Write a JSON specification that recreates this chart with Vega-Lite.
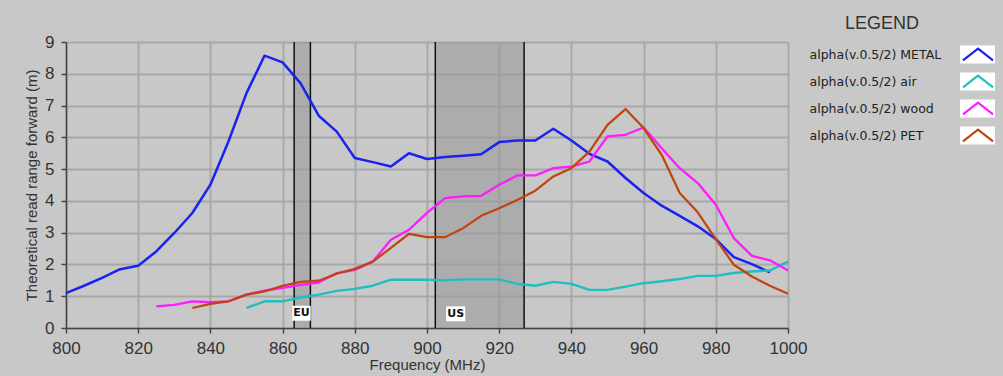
{
  "$schema": "https://vega.github.io/schema/vega-lite/v6.json",
  "width": 722,
  "height": 286,
  "autosize": "none",
  "padding": {"left": 66, "top": 42, "right": 215, "bottom": 48},
  "background": "#c8c8c8",
  "title": {
    "text": "LEGEND",
    "anchor": "end",
    "frame": "group",
    "align": "center",
    "dx": 94,
    "dy": 16,
    "offset": 2,
    "baseline": "alphabetic",
    "font": "Liberation Sans",
    "fontSize": 18,
    "fontWeight": "normal",
    "color": "#333333"
  },
  "config": {
    "view": {"fill": "white", "stroke": null},
    "axis": {
      "grid": true,
      "gridColor": "#a8a8a8",
      "gridWidth": 2,
      "domainColor": "#444444",
      "domainWidth": 1.5,
      "tickColor": "#444444",
      "tickSize": 5,
      "tickWidth": 1.5,
      "labelFont": "Liberation Sans",
      "labelFontSize": 17,
      "labelColor": "#333333",
      "labelOverlap": false,
      "labelFlush": false,
      "titleFont": "Liberation Sans",
      "titleFontSize": 15,
      "titleFontWeight": "normal",
      "titleColor": "#333333"
    }
  },
  "layer": [
    {
      "data": {"values": [
        {"band": "EU", "f1": 863.2, "f2": 867.7},
        {"band": "US", "f1": 902.3, "f2": 926.9}
      ]},
      "mark": {"type": "rect", "fill": "#999999", "opacity": 0.6},
      "encoding": {
        "x": {"field": "f1", "type": "quantitative", "scale": {"domain": [800, 1000], "nice": false, "zero": false},
              "axis": {"values": [800, 820, 840, 860, 880, 900, 920, 940, 960, 980, 1000], "format": "d", "title": "Frequency (MHz)", "labelPadding": 7, "titlePadding": 1}},
        "x2": {"field": "f2"}
      }
    },
    {
      "data": {"values": [
        {"edge": 863.2}, {"edge": 867.7}, {"edge": 902.3}, {"edge": 926.9}
      ]},
      "mark": {"type": "rule", "color": "#111111", "strokeWidth": 1.5},
      "encoding": {
        "x": {"field": "edge", "type": "quantitative",
              "axis": {"values": [800, 820, 840, 860, 880, 900, 920, 940, 960, 980, 1000], "format": "d", "title": "Frequency (MHz)", "labelPadding": 7, "titlePadding": 1}}
      }
    },
    {
      "data": {"values": [
        {"band": "EU", "x1": 862.7, "x2": 867.8, "y1": 0.23, "y2": 0.70, "xc": 865.25, "yc": 0.465},
        {"band": "US", "x1": 905.3, "x2": 910.6, "y1": 0.21, "y2": 0.68, "xc": 907.95, "yc": 0.445}
      ]},
      "layer": [
        {
          "mark": {"type": "rect", "fill": "white", "opacity": 1},
          "encoding": {
            "x": {"field": "x1", "type": "quantitative",
                  "axis": {"values": [800, 820, 840, 860, 880, 900, 920, 940, 960, 980, 1000], "format": "d", "title": "Frequency (MHz)", "labelPadding": 7, "titlePadding": 1}},
            "x2": {"field": "x2"},
            "y": {"field": "y1", "type": "quantitative",
                  "axis": {"values": [0, 1, 2, 3, 4, 5, 6, 7, 8, 9], "format": "d", "title": "Theoretical read range forward (m)", "labelPadding": 7, "titlePadding": 5}},
            "y2": {"field": "y2"}
          }
        },
        {
          "mark": {"type": "text", "font": "DejaVu Sans", "fontSize": 11, "fontWeight": "bold", "color": "#111111", "baseline": "middle", "align": "center"},
          "encoding": {
            "x": {"field": "xc", "type": "quantitative",
                  "axis": {"values": [800, 820, 840, 860, 880, 900, 920, 940, 960, 980, 1000], "format": "d", "title": "Frequency (MHz)", "labelPadding": 7, "titlePadding": 1}},
            "y": {"field": "yc", "type": "quantitative",
                  "axis": {"values": [0, 1, 2, 3, 4, 5, 6, 7, 8, 9], "format": "d", "title": "Theoretical read range forward (m)", "labelPadding": 7, "titlePadding": 5}},
            "text": {"field": "band"}
          }
        }
      ]
    },
    {
      "data": {"values": [
        {"entry": "alpha(v.0.5/2) METAL"},
        {"entry": "alpha(v.0.5/2) air"},
        {"entry": "alpha(v.0.5/2) wood"},
        {"entry": "alpha(v.0.5/2) PET"}
      ]},
      "mark": {"type": "point", "filled": true, "fill": "white", "stroke": "#6e6e6e", "strokeWidth": 1, "opacity": 0},
      "encoding": {
        "shape": {
          "field": "entry",
          "type": "nominal",
          "sort": ["alpha(v.0.5/2) METAL", "alpha(v.0.5/2) air", "alpha(v.0.5/2) wood", "alpha(v.0.5/2) PET"],
          "scale": {"range": ["M-1,-0.514H1V0.514H-1Z"]},
          "legend": {
            "orient": "none",
            "legendX": 893.5,
            "legendY": -1,
            "title": null,
            "labelExpr": "''",
            "labelOffset": 0,
            "symbolSize": 1225,
            "symbolFillColor": "white",
            "symbolStrokeColor": "#6e6e6e",
            "symbolStrokeWidth": 1,
            "symbolOpacity": 1,
            "rowPadding": 0,
            "clipHeight": 27,
            "padding": 0,
            "zindex": 1
          }
        },
        "strokeDash": {
          "field": "entry",
          "type": "nominal",
          "scale": {
            "domain": ["alpha(v.0.5/2) METAL", "alpha(v.0.5/2) air", "alpha(v.0.5/2) wood", "alpha(v.0.5/2) PET"],
            "range": [[1, 0], [1, 0], [1, 0], [1, 0]]
          },
          "legend": {
            "orient": "none",
            "legendX": 743,
            "legendY": -1,
            "title": null,
            "padding": 0,
            "symbolSize": 100,
            "symbolStrokeWidth": 0,
            "symbolOpacity": 0,
            "labelOffset": -12.5,
            "labelFont": "DejaVu Sans",
            "labelFontSize": 12.5,
            "labelColor": "#222222",
            "labelLimit": 0,
            "rowPadding": 0,
            "clipHeight": 27,
            "zindex": 3
          }
        }
      }
    },
    {
      "data": {"name": "curves"},
      "mark": {"type": "line", "strokeJoin": "round"},
      "encoding": {
        "x": {
          "field": "f", "type": "quantitative",
          "scale": {"domain": [800, 1000], "nice": false, "zero": false},
          "axis": {"values": [800, 820, 840, 860, 880, 900, 920, 940, 960, 980, 1000], "format": "d", "title": "Frequency (MHz)", "labelPadding": 7, "titlePadding": 1}
        },
        "y": {
          "field": "v", "type": "quantitative",
          "scale": {"domain": [0, 9], "nice": false},
          "axis": {"values": [0, 1, 2, 3, 4, 5, 6, 7, 8, 9], "format": "d", "title": "Theoretical read range forward (m)", "labelPadding": 7, "titlePadding": 5}
        },
        "color": {
          "field": "series", "type": "nominal",
          "sort": ["alpha(v.0.5/2) METAL", "alpha(v.0.5/2) air", "alpha(v.0.5/2) wood", "alpha(v.0.5/2) PET"],
          "scale": {
            "range": ["#1a22f0", "#1fbfbf", "#ff1aff", "#c0440c"]
          },
          "legend": {
            "orient": "none",
            "legendX": 894.5,
            "legendY": -1,
            "title": null,
            "padding": 0,
            "symbolType": "M-0.94,0.36L0,-0.36L0.94,0.36",
            "symbolSize": 1024,
            "symbolStrokeWidth": 2.2,
            "symbolFillColor": "transparent",
            "labelExpr": "''",
            "labelOffset": 0,
            "rowPadding": 0,
            "clipHeight": 27,
            "zindex": 2
          }
        },
        "strokeWidth": {
          "field": "series", "type": "nominal",
          "scale": {
            "domain": ["alpha(v.0.5/2) METAL", "alpha(v.0.5/2) air", "alpha(v.0.5/2) wood", "alpha(v.0.5/2) PET"],
            "range": [2.5, 2.2, 2.2, 3.5]
          },
          "legend": null
        }
      }
    }
  ],
  "datasets": {
    "curves": [
      {"series": "alpha(v.0.5/2) METAL", "f": 800, "v": 1.10},
      {"series": "alpha(v.0.5/2) METAL", "f": 805, "v": 1.33},
      {"series": "alpha(v.0.5/2) METAL", "f": 810, "v": 1.58},
      {"series": "alpha(v.0.5/2) METAL", "f": 815, "v": 1.85},
      {"series": "alpha(v.0.5/2) METAL", "f": 820, "v": 1.96},
      {"series": "alpha(v.0.5/2) METAL", "f": 825, "v": 2.41},
      {"series": "alpha(v.0.5/2) METAL", "f": 830, "v": 2.99},
      {"series": "alpha(v.0.5/2) METAL", "f": 835, "v": 3.62},
      {"series": "alpha(v.0.5/2) METAL", "f": 840, "v": 4.51},
      {"series": "alpha(v.0.5/2) METAL", "f": 845, "v": 5.87},
      {"series": "alpha(v.0.5/2) METAL", "f": 850, "v": 7.39},
      {"series": "alpha(v.0.5/2) METAL", "f": 855, "v": 8.57},
      {"series": "alpha(v.0.5/2) METAL", "f": 860, "v": 8.36},
      {"series": "alpha(v.0.5/2) METAL", "f": 865, "v": 7.70},
      {"series": "alpha(v.0.5/2) METAL", "f": 870, "v": 6.68},
      {"series": "alpha(v.0.5/2) METAL", "f": 875, "v": 6.18},
      {"series": "alpha(v.0.5/2) METAL", "f": 880, "v": 5.35},
      {"series": "alpha(v.0.5/2) METAL", "f": 885, "v": 5.22},
      {"series": "alpha(v.0.5/2) METAL", "f": 890, "v": 5.08},
      {"series": "alpha(v.0.5/2) METAL", "f": 895, "v": 5.50},
      {"series": "alpha(v.0.5/2) METAL", "f": 900, "v": 5.32},
      {"series": "alpha(v.0.5/2) METAL", "f": 905, "v": 5.38},
      {"series": "alpha(v.0.5/2) METAL", "f": 910, "v": 5.42},
      {"series": "alpha(v.0.5/2) METAL", "f": 915, "v": 5.47},
      {"series": "alpha(v.0.5/2) METAL", "f": 920, "v": 5.85},
      {"series": "alpha(v.0.5/2) METAL", "f": 925, "v": 5.90},
      {"series": "alpha(v.0.5/2) METAL", "f": 930, "v": 5.90},
      {"series": "alpha(v.0.5/2) METAL", "f": 935, "v": 6.27},
      {"series": "alpha(v.0.5/2) METAL", "f": 940, "v": 5.90},
      {"series": "alpha(v.0.5/2) METAL", "f": 945, "v": 5.48},
      {"series": "alpha(v.0.5/2) METAL", "f": 950, "v": 5.24},
      {"series": "alpha(v.0.5/2) METAL", "f": 955, "v": 4.72},
      {"series": "alpha(v.0.5/2) METAL", "f": 960, "v": 4.25},
      {"series": "alpha(v.0.5/2) METAL", "f": 965, "v": 3.85},
      {"series": "alpha(v.0.5/2) METAL", "f": 970, "v": 3.53},
      {"series": "alpha(v.0.5/2) METAL", "f": 975, "v": 3.20},
      {"series": "alpha(v.0.5/2) METAL", "f": 980, "v": 2.80},
      {"series": "alpha(v.0.5/2) METAL", "f": 985, "v": 2.23},
      {"series": "alpha(v.0.5/2) METAL", "f": 990, "v": 2.01},
      {"series": "alpha(v.0.5/2) METAL", "f": 995, "v": 1.75},

      {"series": "alpha(v.0.5/2) air", "f": 850, "v": 0.63},
      {"series": "alpha(v.0.5/2) air", "f": 855, "v": 0.84},
      {"series": "alpha(v.0.5/2) air", "f": 860, "v": 0.84},
      {"series": "alpha(v.0.5/2) air", "f": 865, "v": 0.96},
      {"series": "alpha(v.0.5/2) air", "f": 870, "v": 1.05},
      {"series": "alpha(v.0.5/2) air", "f": 875, "v": 1.17},
      {"series": "alpha(v.0.5/2) air", "f": 880, "v": 1.23},
      {"series": "alpha(v.0.5/2) air", "f": 885, "v": 1.33},
      {"series": "alpha(v.0.5/2) air", "f": 890, "v": 1.52},
      {"series": "alpha(v.0.5/2) air", "f": 895, "v": 1.52},
      {"series": "alpha(v.0.5/2) air", "f": 900, "v": 1.52},
      {"series": "alpha(v.0.5/2) air", "f": 905, "v": 1.50},
      {"series": "alpha(v.0.5/2) air", "f": 910, "v": 1.53},
      {"series": "alpha(v.0.5/2) air", "f": 915, "v": 1.53},
      {"series": "alpha(v.0.5/2) air", "f": 920, "v": 1.53},
      {"series": "alpha(v.0.5/2) air", "f": 925, "v": 1.39},
      {"series": "alpha(v.0.5/2) air", "f": 930, "v": 1.33},
      {"series": "alpha(v.0.5/2) air", "f": 935, "v": 1.45},
      {"series": "alpha(v.0.5/2) air", "f": 940, "v": 1.39},
      {"series": "alpha(v.0.5/2) air", "f": 945, "v": 1.20},
      {"series": "alpha(v.0.5/2) air", "f": 950, "v": 1.20},
      {"series": "alpha(v.0.5/2) air", "f": 955, "v": 1.30},
      {"series": "alpha(v.0.5/2) air", "f": 960, "v": 1.41},
      {"series": "alpha(v.0.5/2) air", "f": 965, "v": 1.47},
      {"series": "alpha(v.0.5/2) air", "f": 970, "v": 1.54},
      {"series": "alpha(v.0.5/2) air", "f": 975, "v": 1.64},
      {"series": "alpha(v.0.5/2) air", "f": 980, "v": 1.64},
      {"series": "alpha(v.0.5/2) air", "f": 985, "v": 1.73},
      {"series": "alpha(v.0.5/2) air", "f": 990, "v": 1.78},
      {"series": "alpha(v.0.5/2) air", "f": 995, "v": 1.81},
      {"series": "alpha(v.0.5/2) air", "f": 1000, "v": 2.09},

      {"series": "alpha(v.0.5/2) wood", "f": 825, "v": 0.68},
      {"series": "alpha(v.0.5/2) wood", "f": 830, "v": 0.73},
      {"series": "alpha(v.0.5/2) wood", "f": 835, "v": 0.84},
      {"series": "alpha(v.0.5/2) wood", "f": 840, "v": 0.81},
      {"series": "alpha(v.0.5/2) wood", "f": 845, "v": 0.84},
      {"series": "alpha(v.0.5/2) wood", "f": 850, "v": 1.05},
      {"series": "alpha(v.0.5/2) wood", "f": 855, "v": 1.18},
      {"series": "alpha(v.0.5/2) wood", "f": 860, "v": 1.26},
      {"series": "alpha(v.0.5/2) wood", "f": 865, "v": 1.36},
      {"series": "alpha(v.0.5/2) wood", "f": 870, "v": 1.43},
      {"series": "alpha(v.0.5/2) wood", "f": 875, "v": 1.73},
      {"series": "alpha(v.0.5/2) wood", "f": 880, "v": 1.83},
      {"series": "alpha(v.0.5/2) wood", "f": 885, "v": 2.09},
      {"series": "alpha(v.0.5/2) wood", "f": 890, "v": 2.78},
      {"series": "alpha(v.0.5/2) wood", "f": 895, "v": 3.09},
      {"series": "alpha(v.0.5/2) wood", "f": 900, "v": 3.62},
      {"series": "alpha(v.0.5/2) wood", "f": 905, "v": 4.09},
      {"series": "alpha(v.0.5/2) wood", "f": 910, "v": 4.14},
      {"series": "alpha(v.0.5/2) wood", "f": 915, "v": 4.16},
      {"series": "alpha(v.0.5/2) wood", "f": 920, "v": 4.51},
      {"series": "alpha(v.0.5/2) wood", "f": 925, "v": 4.80},
      {"series": "alpha(v.0.5/2) wood", "f": 930, "v": 4.80},
      {"series": "alpha(v.0.5/2) wood", "f": 935, "v": 5.03},
      {"series": "alpha(v.0.5/2) wood", "f": 940, "v": 5.08},
      {"series": "alpha(v.0.5/2) wood", "f": 945, "v": 5.24},
      {"series": "alpha(v.0.5/2) wood", "f": 950, "v": 6.03},
      {"series": "alpha(v.0.5/2) wood", "f": 955, "v": 6.08},
      {"series": "alpha(v.0.5/2) wood", "f": 960, "v": 6.31},
      {"series": "alpha(v.0.5/2) wood", "f": 965, "v": 5.66},
      {"series": "alpha(v.0.5/2) wood", "f": 970, "v": 5.03},
      {"series": "alpha(v.0.5/2) wood", "f": 975, "v": 4.56},
      {"series": "alpha(v.0.5/2) wood", "f": 980, "v": 3.88},
      {"series": "alpha(v.0.5/2) wood", "f": 985, "v": 2.83},
      {"series": "alpha(v.0.5/2) wood", "f": 990, "v": 2.27},
      {"series": "alpha(v.0.5/2) wood", "f": 995, "v": 2.13},
      {"series": "alpha(v.0.5/2) wood", "f": 1000, "v": 1.81},

      {"series": "alpha(v.0.5/2) PET", "f": 835, "v": 0.63},
      {"series": "alpha(v.0.5/2) PET", "f": 840, "v": 0.76},
      {"series": "alpha(v.0.5/2) PET", "f": 845, "v": 0.84},
      {"series": "alpha(v.0.5/2) PET", "f": 850, "v": 1.05},
      {"series": "alpha(v.0.5/2) PET", "f": 855, "v": 1.15},
      {"series": "alpha(v.0.5/2) PET", "f": 860, "v": 1.33},
      {"series": "alpha(v.0.5/2) PET", "f": 865, "v": 1.45},
      {"series": "alpha(v.0.5/2) PET", "f": 870, "v": 1.49},
      {"series": "alpha(v.0.5/2) PET", "f": 875, "v": 1.71},
      {"series": "alpha(v.0.5/2) PET", "f": 880, "v": 1.86},
      {"series": "alpha(v.0.5/2) PET", "f": 885, "v": 2.09},
      {"series": "alpha(v.0.5/2) PET", "f": 890, "v": 2.52},
      {"series": "alpha(v.0.5/2) PET", "f": 895, "v": 2.96},
      {"series": "alpha(v.0.5/2) PET", "f": 900, "v": 2.86},
      {"series": "alpha(v.0.5/2) PET", "f": 905, "v": 2.86},
      {"series": "alpha(v.0.5/2) PET", "f": 910, "v": 3.14},
      {"series": "alpha(v.0.5/2) PET", "f": 915, "v": 3.53},
      {"series": "alpha(v.0.5/2) PET", "f": 920, "v": 3.77},
      {"series": "alpha(v.0.5/2) PET", "f": 925, "v": 4.03},
      {"series": "alpha(v.0.5/2) PET", "f": 930, "v": 4.32},
      {"series": "alpha(v.0.5/2) PET", "f": 935, "v": 4.77},
      {"series": "alpha(v.0.5/2) PET", "f": 940, "v": 5.03},
      {"series": "alpha(v.0.5/2) PET", "f": 945, "v": 5.55},
      {"series": "alpha(v.0.5/2) PET", "f": 950, "v": 6.39},
      {"series": "alpha(v.0.5/2) PET", "f": 955, "v": 6.89},
      {"series": "alpha(v.0.5/2) PET", "f": 960, "v": 6.29},
      {"series": "alpha(v.0.5/2) PET", "f": 965, "v": 5.45},
      {"series": "alpha(v.0.5/2) PET", "f": 970, "v": 4.25},
      {"series": "alpha(v.0.5/2) PET", "f": 975, "v": 3.64},
      {"series": "alpha(v.0.5/2) PET", "f": 980, "v": 2.80},
      {"series": "alpha(v.0.5/2) PET", "f": 985, "v": 1.99},
      {"series": "alpha(v.0.5/2) PET", "f": 990, "v": 1.62},
      {"series": "alpha(v.0.5/2) PET", "f": 995, "v": 1.33},
      {"series": "alpha(v.0.5/2) PET", "f": 1000, "v": 1.08}
    ]
  }
}
